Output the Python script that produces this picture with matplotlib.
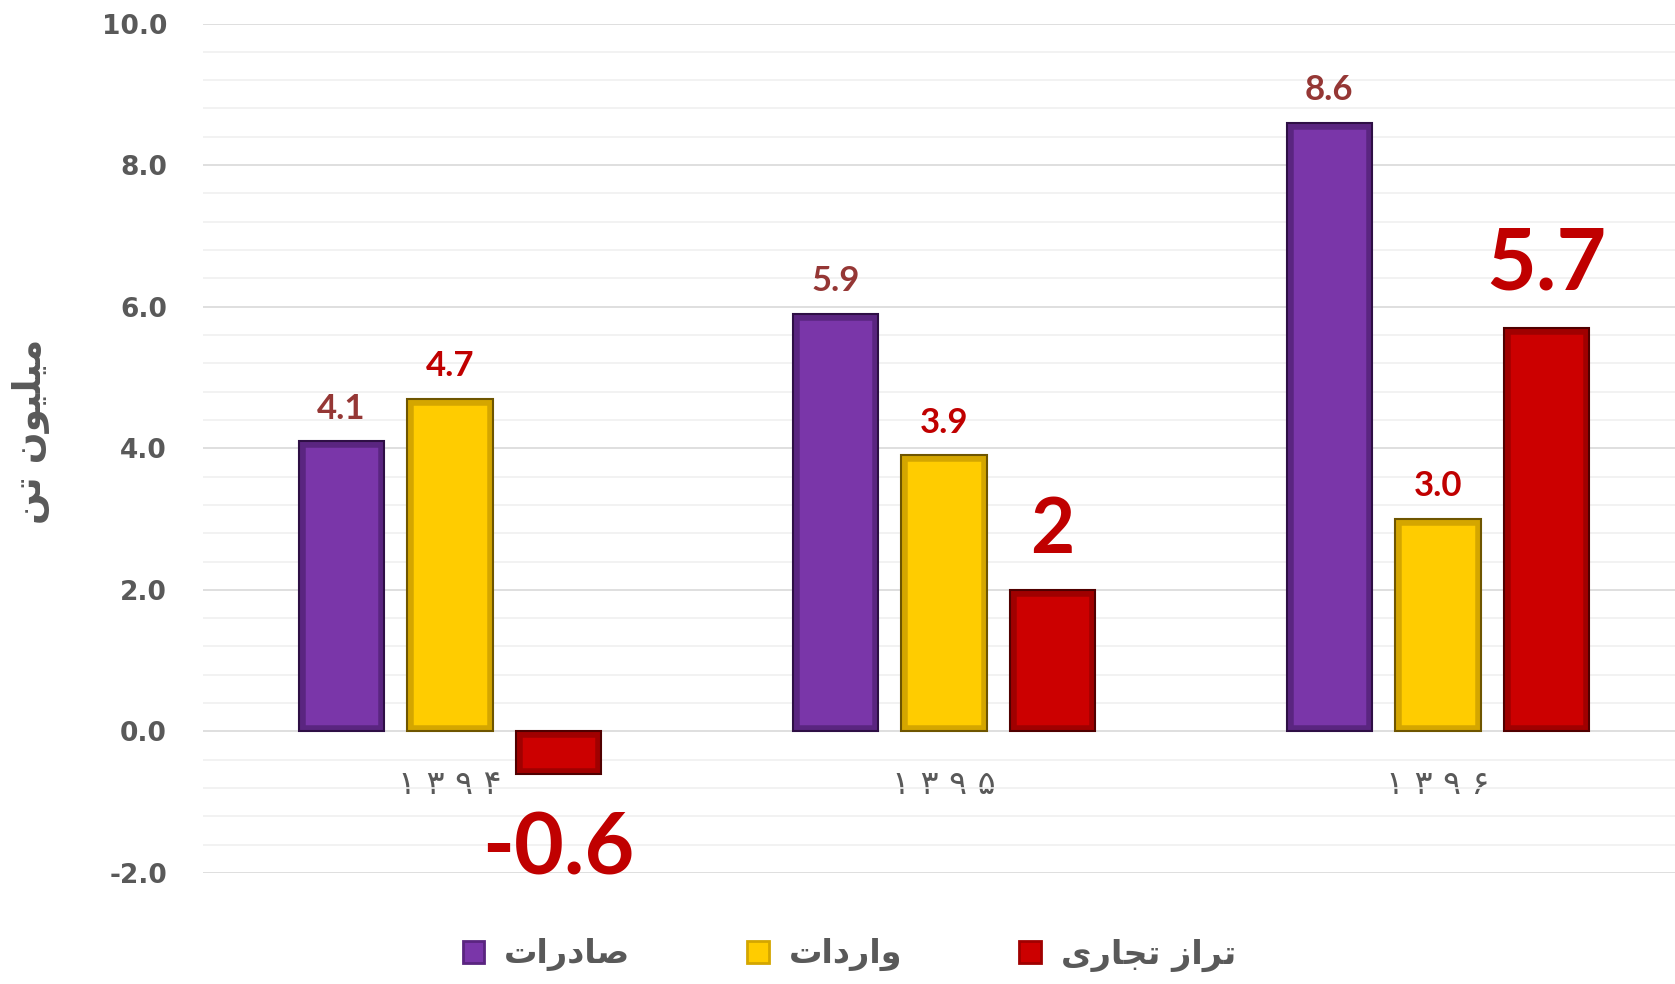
import matplotlib
matplotlib.use('Agg')
import matplotlib.pyplot as plt
from matplotlib.patches import Patch
from matplotlib.ticker import MultipleLocator, FormatStrFormatter
import numpy as np

# Persian text written in presentation forms (visual order) since matplotlib does no shaping
years = ['\u06F1 \u06F3 \u06F9 \u06F4', '\u06F1 \u06F3 \u06F9 \u06F5', '\u06F1 \u06F3 \u06F9 \u06F6']
series_names = ['\uFE95\uFE8D\uFEAD\uFEA9\uFE8E\uFEBB',                      # صادرات
                '\uFE95\uFE8D\uFEA9\uFEAD\uFE8D\uFEED',                      # واردات
                '\uFEEF\uFEAD\uFE8E\uFEA0\uFE97 \uFEAF\uFE8D\uFEAE\uFE97']   # تراز تجاری
ylabel = '\uFEE6\uFE97 \uFEE5\uFEEE\uFEF4\uFEE0\uFEF4\uFEE3'                 # میلیون تن

exports = [4.1, 5.9, 8.6]
imports = [4.7, 3.9, 3.0]
balance = [-0.6, 2, 5.7]
balance_text = ['-0.6', '2', '5.7']

fills = ['#7A36A9', '#FFCC00', '#CC0000']
bands = ['#5A2580', '#D4A600', '#A00000']
edges = ['#2E0F45', '#6E5500', '#500000']
label_colors = ['#953735', '#C00000', '#C00000']
label_sizes = [[25, 25, 25], [25, 25, 25], [62, 55, 62]]

gray = '#595959'

fig = plt.figure(figsize=(16.75, 9.84), dpi=100)
ax = fig.add_axes([0.1212, 0.1128, 0.8788, 0.8633])

x = np.arange(len(years))
w = 0.173
off = 0.22
data = [exports, imports, balance]
texts = [['%.1f' % v for v in exports], ['%.1f' % v for v in imports], balance_text]

for i, vals in enumerate(data):
    pos = x + (i - 1) * off
    bars = ax.bar(pos, vals, w, color=fills[i], edgecolor=bands[i], linewidth=9, zorder=3)
    for b in bars:
        b.set_clip_path(b)
    ax.bar(pos, vals, w, color='none', edgecolor=edges[i], linewidth=1.5, zorder=4)
    for p, v, t, s in zip(pos, vals, texts[i], label_sizes[i]):
        if v >= 0:
            ax.annotate(t, (p, v), xytext=(0, 12 if s < 30 else 17), textcoords='offset points',
                        ha='center', va='bottom', fontsize=s, fontweight='bold',
                        color=label_colors[i], family='Lato')
        else:
            ax.annotate(t, (p, v), xytext=(0, -26), textcoords='offset points',
                        ha='center', va='top', fontsize=s, fontweight='bold',
                        color=label_colors[i], family='Lato')

ax.set_ylim(-2, 10)
ax.set_xlim(-0.5, 2.48)
ax.yaxis.set_major_locator(MultipleLocator(2))
ax.yaxis.set_minor_locator(MultipleLocator(0.4))
ax.yaxis.set_major_formatter(FormatStrFormatter('%.1f'))
ax.grid(axis='y', which='major', color='#D9D9D9', linewidth=1.2, zorder=0)
ax.grid(axis='y', which='minor', color='#F0F0F0', linewidth=1.2, zorder=0)
ax.set_axisbelow(True)
for sp in ax.spines.values():
    sp.set_visible(False)
ax.spines['bottom'].set_position(('data', 0))

ax.set_xticks(x)
ax.set_xticklabels(years, fontsize=24, color=gray)
ax.tick_params(axis='x', length=0, pad=26)
ax.tick_params(axis='y', which='both', length=0, pad=26, labelsize=19, labelcolor=gray)
for lab in ax.get_yticklabels():
    lab.set_fontweight('bold')

ax.set_ylabel(ylabel, fontsize=27, fontweight='bold', color=gray)
ax.yaxis.set_label_coords(-0.104, 0.52)

handles = [Patch(facecolor=fills[i], edgecolor=bands[i], linewidth=2) for i in range(3)]
leg = fig.legend(handles, series_names, loc='center', bbox_to_anchor=(0.507, 0.03), ncol=3,
                 frameon=False, fontsize=24, handlelength=0.65, handleheight=0.65,
                 columnspacing=3.5, handletextpad=0.6)
for t in leg.get_texts():
    t.set_color(gray)
    t.set_fontweight('bold')

fig.savefig('out.png', dpi=100)
